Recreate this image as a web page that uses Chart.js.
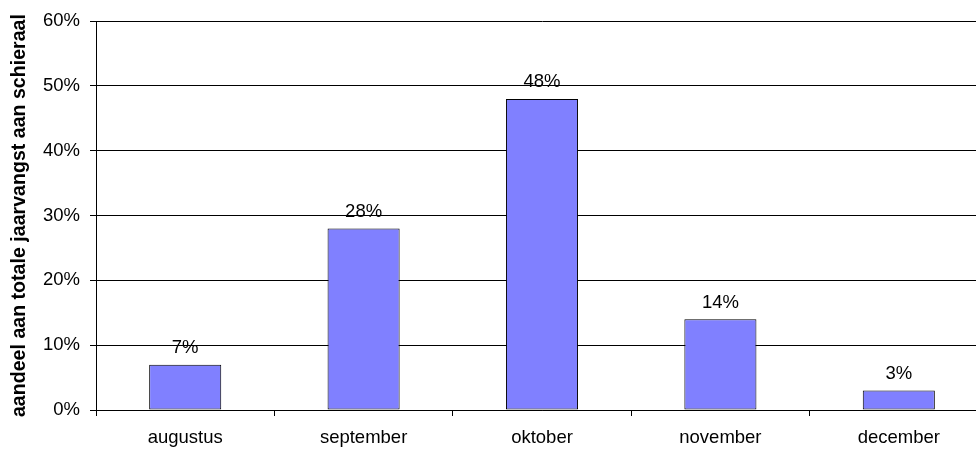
<!DOCTYPE html>
<html>
<head>
<meta charset="utf-8">
<script src="https://cdn.jsdelivr.net/npm/chart.js@4/dist/chart.umd.min.js"></script>
<style>
  html, body { margin: 0; padding: 0; background: #fff; overflow: hidden; width: 976px; height: 450px; }
  #wrap { width: 988px; height: 450px; }
</style>
</head>
<body>
<div id="wrap"><canvas id="c" width="988" height="450" style="width:988px;height:450px"></canvas></div>
<script>
const categories = ['augustus', 'september', 'oktober', 'november', 'december'];
const shares = [7, 28, 48, 14, 3];
const yTicks = [0, 10, 20, 30, 40, 50, 60];
const yTitle = 'aandeel aan totale jaarvangst aan schieraal';

const FONT = '"Liberation Sans", Arial, sans-serif';

const dataLabels = {
  id: 'dataLabels',
  afterDatasetsDraw(chart) {
    const ctx = chart.ctx;
    const meta = chart.getDatasetMeta(0);
    ctx.save();
    ctx.font = '18.5px ' + FONT;
    ctx.fillStyle = '#000';
    ctx.textAlign = 'center';
    ctx.textBaseline = 'alphabetic';
    meta.data.forEach((bar, i) => {
      ctx.fillText(shares[i] + '%', bar.x, bar.y - 11.5);
    });
    ctx.restore();
  }
};

new Chart(document.getElementById('c'), {
  type: 'bar',
  data: {
    labels: categories,
    datasets: [{
      data: shares,
      backgroundColor: '#8080FF',
      borderColor: '#000',
      borderWidth: 1,
      borderSkipped: false,
      categoryPercentage: 1,
      barPercentage: 0.404
    }]
  },
  options: {
    responsive: false,
    animation: false,
    devicePixelRatio: 1,
    layout: { padding: { top: 20, right: 0, bottom: 0, left: 0 } },
    plugins: { legend: { display: false }, tooltip: { enabled: false } },
    scales: {
      x: {
        type: 'category',
        offset: true,
        grid: { offset: true, drawOnChartArea: false, drawTicks: true, tickLength: 6, color: '#000' },
        border: { color: '#000', width: 1 },
        ticks: { color: '#000', font: { family: FONT, size: 18.5 }, padding: 11, maxRotation: 0, autoSkip: false },
        afterFit(scale) { scale.height = 40; }
      },
      y: {
        min: 0,
        max: 60,
        afterBuildTicks(scale) { scale.ticks = yTicks.map(v => ({ value: v })); },
        grid: { color: '#000', lineWidth: 1, tickLength: 6, drawTicks: true },
        border: { color: '#000', width: 1 },
        ticks: { color: '#000', font: { family: FONT, size: 18.5 }, padding: 10, callback: v => v + '%' },
        title: { display: true, text: yTitle, color: '#000', font: { family: FONT, size: 19.6, weight: 'bold' }, padding: { top: 8, bottom: 0 } },
        afterFit(scale) { scale.width = 96; }
      }
    }
  },
  plugins: [dataLabels]
});
</script>
</body>
</html>
